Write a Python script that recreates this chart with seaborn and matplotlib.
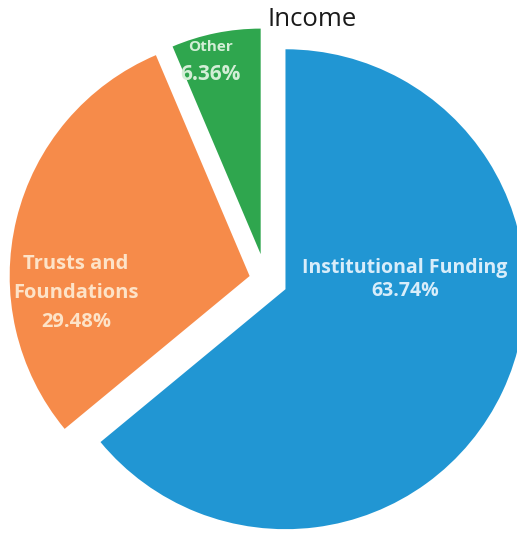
import matplotlib
matplotlib.use("Agg")
import matplotlib.pyplot as plt
import seaborn as sns

# ---- data ----
categories = ["Institutional Funding", "Trusts and\nFoundations", "Other"]
shares = [63.74, 29.48, 6.36]
title = "Income"

# ---- style ----
sns.set_theme(style="white")
plt.rcParams["font.family"] = ["Open Sans", "DejaVu Sans"]
colors = sns.color_palette(["#2196D3", "#F68B4A", "#2FA64E"])
text_colors = ["#d8edfa", "#fde3c8", "#d3eed6"]

fig = plt.figure(figsize=(5.17, 5.37), dpi=100)
ax = fig.add_axes([0, 0, 1, 1])

wedges, _ = ax.pie(
    shares,
    colors=colors,
    startangle=90,
    counterclock=False,
    explode=[0.09, 0.07, 0.11],
    radius=1.0,
    wedgeprops=dict(linewidth=0),
)
wedges[2].set_radius(0.94)

ax.set_xlim(-1.108, 1.046)
ax.set_ylim(-1.071, 1.167)
ax.set_aspect("equal")
ax.axis("off")

# label positions (axes-fraction coordinates)
pos = [(405 / 517, 1 - 279 / 537), (76 / 517, 1 - 293 / 537), (210 / 517, 1 - 61 / 537)]
sizes = [14, 14.5, 11]
spacing = [1.2, 1.62, 1.5]
for i, (cat, val) in enumerate(zip(categories, shares)):
    if i == 2:
        ax.text(pos[i][0], 1 - 47 / 537, cat, transform=ax.transAxes, ha="center", va="center",
                fontsize=11, color=text_colors[i], fontweight="bold")
        ax.text(pos[i][0], 1 - 75 / 537, f"{val:.2f}%", transform=ax.transAxes, ha="center",
                va="center", fontsize=15, color=text_colors[i], fontweight="bold")
    else:
        ax.text(pos[i][0], pos[i][1], f"{cat}\n{val:.2f}%", transform=ax.transAxes,
                ha="center", va="center", fontsize=sizes[i], color=text_colors[i],
                fontweight="bold", linespacing=spacing[i])

fig.text(312 / 517, 1 - 20 / 537, title, ha="center", va="center", fontsize=18.5, color="#1a1a1a")

fig.savefig("out.png", dpi=100, facecolor="white")
